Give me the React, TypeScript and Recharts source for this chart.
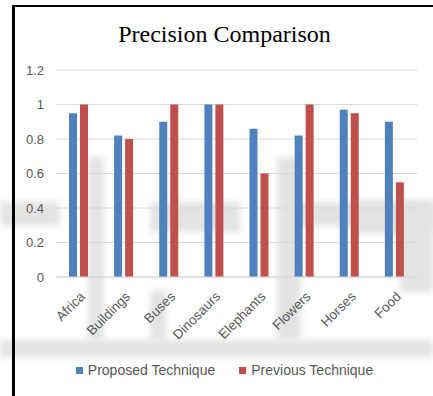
import { BarChart, Bar, XAxis, YAxis, CartesianGrid } from 'recharts';

const categories = ['Africa', 'Buildings', 'Buses', 'Dinosaurs', 'Elephants', 'Flowers', 'Horses', 'Food'];
const proposed = [0.95, 0.82, 0.9, 1, 0.86, 0.82, 0.97, 0.9];
const previous = [1, 0.8, 1, 1, 0.6, 1, 0.95, 0.55];
const yTicks = [0, 0.2, 0.4, 0.6, 0.8, 1, 1.2];
const seriesNames = ['Proposed Technique', 'Previous Technique'];
const seriesColors = ['#4f81bd', '#c0504d'];

const data = categories.map((name, i) => ({
  name,
  proposed: proposed[i],
  previous: previous[i],
}));

const FONT = '"Liberation Sans", Arial, sans-serif';

// faint grey smudges sitting behind the plot (scan artefacts)
const smudges = [
  { left: 0, top: 202, width: 60, height: 24 },
  { left: 150, top: 202, width: 90, height: 30 },
  { left: 290, top: 202, width: 143, height: 24 },
  { left: 353, top: 202, width: 80, height: 32 },
  { left: 400, top: 202, width: 33, height: 90 },
  { left: 88, top: 157, width: 16, height: 183 },
  { left: 277, top: 157, width: 24, height: 183 },
  { left: 150, top: 290, width: 16, height: 50 },
  { left: 0, top: 340, width: 433, height: 17 },
];

function CategoryTick({ x, y, payload }: any) {
  return (
    <g transform={`translate(${x + 4},${y + 9})`}>
      <text
        textAnchor="end"
        transform="rotate(-45)"
        fill="#595959"
        fontSize={13.5}
        fontFamily={FONT}
        dy="0.35em"
      >
        {payload.value}
      </text>
    </g>
  );
}

export default function App() {
  return (
    <div style={{ position: 'absolute', left: 0, top: 0, width: 433, height: 396, background: '#fff', overflow: 'hidden' }}>
      {smudges.map((s, i) => (
        <div
          key={i}
          style={{ position: 'absolute', ...s, background: '#e3e3e3', filter: 'blur(3px)' }}
        />
      ))}
      {/* frame */}
      <div style={{ position: 'absolute', left: 12, top: 5, width: 421, height: 389, borderLeft: '3px solid #000', borderTop: '2.5px solid #000', borderBottom: '1px solid #d0d0d0' }} />
      <div
        style={{
          position: 'absolute',
          left: 14,
          width: 421,
          top: 21,
          textAlign: 'center',
          fontFamily: '"Liberation Serif", "Times New Roman", serif',
          fontSize: 24,
          color: '#000',
        }}
      >
        Precision Comparison
      </div>
      <div style={{ position: 'absolute', left: 0, top: 0 }}>
        <BarChart
          width={433}
          height={396}
          data={data}
          margin={{ top: 70, right: 16, bottom: 59, left: 14 }}
          barSize={8}
          barGap={3}
        >
          <CartesianGrid vertical={false} stroke="#d9d9d9" />
          <XAxis
            dataKey="name"
            tick={<CategoryTick />}
            tickLine={false}
            axisLine={{ stroke: '#d9d9d9' }}
            interval={0}
            height={60}
          />
          <YAxis
            domain={[0, 1.2]}
            ticks={yTicks}
            width={42}
            axisLine={false}
            tickLine={false}
            tickSize={0}
            tickMargin={12}
            tick={{ fill: '#595959', fontSize: 13, fontFamily: FONT }}
          />
          <Bar dataKey="proposed" name={seriesNames[0]} fill={seriesColors[0]} isAnimationActive={false} />
          <Bar dataKey="previous" name={seriesNames[1]} fill={seriesColors[1]} isAnimationActive={false} />
        </BarChart>
      </div>
      {/* legend */}
      <div
        style={{
          position: 'absolute',
          left: 14,
          width: 421,
          top: 362,
          display: 'flex',
          justifyContent: 'center',
          gap: 24,
          fontFamily: FONT,
          fontSize: 14,
          color: '#595959',
        }}
      >
        {seriesNames.map((n, i) => (
          <span key={n} style={{ display: 'flex', alignItems: 'center', gap: 5 }}>
            <span style={{ width: 7, height: 7, background: seriesColors[i], display: 'inline-block' }} />
            {n}
          </span>
        ))}
      </div>
    </div>
  );
}
